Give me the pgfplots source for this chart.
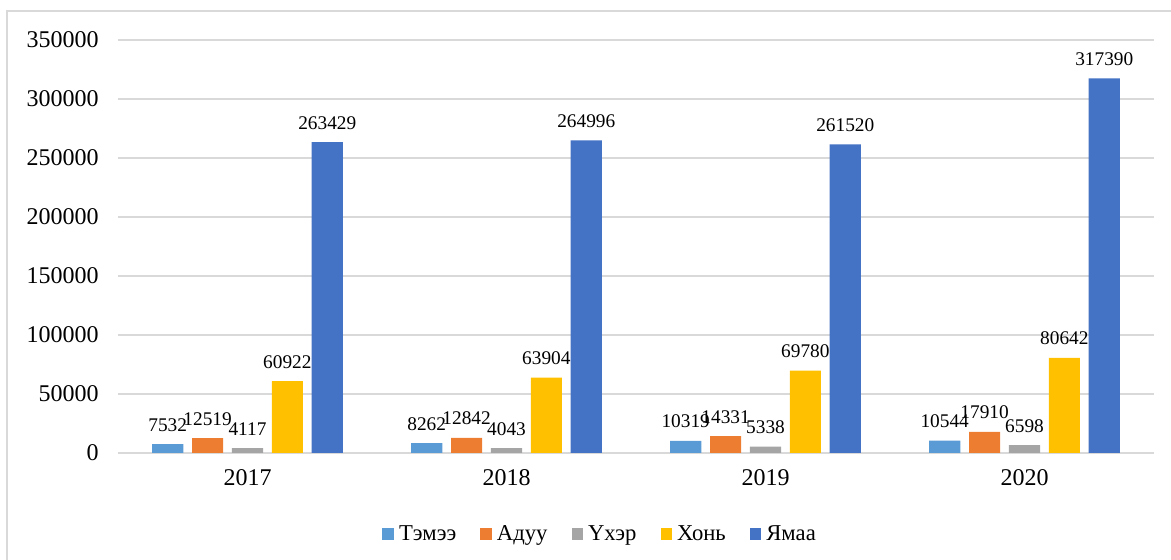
\documentclass[border=0pt]{standalone}
\usepackage{fontspec}
\setmainfont{Liberation Serif}
\usepackage{pgfplots}
\pgfplotsset{compat=1.18}
\definecolor{cA}{HTML}{5B9BD5}
\definecolor{cB}{HTML}{ED7D31}
\definecolor{cC}{HTML}{A5A5A5}
\definecolor{cD}{HTML}{FFC000}
\definecolor{cE}{HTML}{4472C4}
\definecolor{gridc}{HTML}{D9D9D9}
\pgfplotsset{
  sqleg/.style={legend image code/.code={\fill[##1] (0pt,-4.2pt) rectangle (8.4pt,4.2pt);}},
}
\begin{document}
\begin{tikzpicture}
\useasboundingbox (0,0) rectangle (878.25pt,420pt);
\draw[gridc, line width=1.1pt] (5.25pt,0pt) -- (5.25pt,411.75pt) -- (878.25pt,411.75pt);
\begin{axis}[
  at={(88.5pt,80.25pt)}, anchor=south west,
  scale only axis, width=777pt, height=309.75pt,
  xmin=-0.5, xmax=3.5, ymin=0, ymax=350000,
  xtick={0,1,2,3}, xticklabels={2017,2018,2019,2020},
  ytick={0,50000,100000,150000,200000,250000,300000,350000},
  yticklabels={0,50000,100000,150000,200000,250000,300000,350000},
  scaled y ticks=false,
  axis x line*=bottom, axis y line*=left,
  y axis line style={draw=none},
  x axis line style={draw=gridc, line width=1.1pt},
  major tick length=0pt,
  ymajorgrids, grid style={draw=gridc, line width=0.8pt},
  xticklabel style={font=\fontsize{18}{20}\selectfont, yshift=-9pt},
  yticklabel style={font=\fontsize{18}{20}\selectfont, xshift=-11pt},
  ybar, bar width=0.12,
  point meta=explicit symbolic,
  nodes near coords={\pgfplotspointmeta},
  every node near coord/.append style={font=\fontsize{14.5}{16}\selectfont, anchor=south, yshift=6pt, text=black},
  legend style={at={(0.4657,-0.196)}, anchor=center, draw=none, legend columns=5,
    font=\fontsize{17}{19}\selectfont,
    /tikz/every odd column/.append style={column sep=2pt},
    /tikz/every even column/.append style={column sep=16pt}},
]
\addplot[fill=cA, draw=none, bar shift=-0.308, sqleg] coordinates {(0,7532) [7532] (1,8262) [8262] (2,10319) [10319] (3,10544) [10544]};
\addplot[fill=cB, draw=none, bar shift=-0.154, sqleg] coordinates {(0,12519) [12519] (1,12842) [12842] (2,14331) [14331] (3,17910) [17910]};
\addplot[fill=cC, draw=none, bar shift=0, sqleg] coordinates {(0,4117) [4117] (1,4043) [4043] (2,5338) [5338] (3,6598) [6598]};
\addplot[fill=cD, draw=none, bar shift=0.154, sqleg] coordinates {(0,60922) [60922] (1,63904) [63904] (2,69780) [69780] (3,80642) [80642]};
\addplot[fill=cE, draw=none, bar shift=0.308, sqleg] coordinates {(0,263429) [263429] (1,264996) [264996] (2,261520) [261520] (3,317390) [317390]};
\legend{Тэмээ, Адуу, Үхэр, Хонь, Ямаа}
\end{axis}
\end{tikzpicture}
\end{document}
